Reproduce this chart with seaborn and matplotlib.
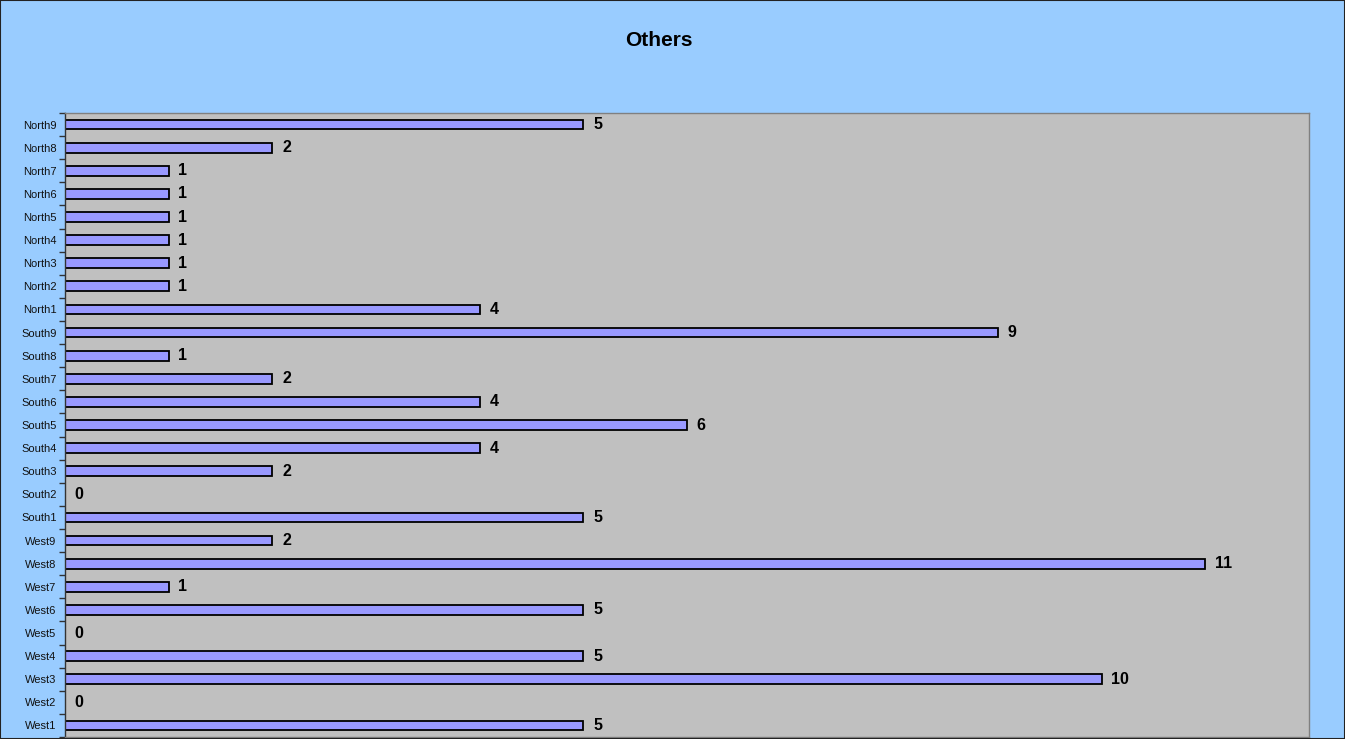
import matplotlib
matplotlib.use("Agg")
import matplotlib.pyplot as plt
import seaborn as sns
import pandas as pd
import numpy as np
from matplotlib.patches import Rectangle

# categories from top to bottom
regions = ["North9", "North8", "North7", "North6", "North5", "North4", "North3", "North2", "North1",
           "South9", "South8", "South7", "South6", "South5", "South4", "South3", "South2", "South1",
           "West9", "West8", "West7", "West6", "West5", "West4", "West3", "West2", "West1"]
counts = [5, 2, 1, 1, 1, 1, 1, 1, 4,
          9, 1, 2, 4, 6, 4, 2, 0, 5,
          2, 11, 1, 5, 0, 5, 10, 0, 5]

df = pd.DataFrame({"region": regions, "count": counts})

sns.set_style("white")
plt.rcParams["font.family"] = ["Liberation Sans", "DejaVu Sans"]

fig = plt.figure(figsize=(13.45, 7.39), dpi=100, facecolor="#99CCFF")
ax = fig.add_axes([65 / 1345, 1 - 737 / 739, (1309 - 65) / 1345, (737 - 113) / 739])
ax.set_facecolor("#C0C0C0")

sns.barplot(data=df, x="count", y="region", order=regions, orient="h",
            color="#9999FF", saturation=1, width=0.42,
            edgecolor="black", linewidth=1.3, ax=ax)

for c in ax.containers:
    ax.bar_label(c, padding=7, fontsize=11.5, fontweight="bold", color="black")

ax.set_xlim(0, 12)
ax.set_ylim(len(regions) - 0.5, -0.5)
ax.set_xlabel("")
ax.set_ylabel("")
ax.set_xticks([])
ax.tick_params(axis="y", which="major", left=False, length=0, labelsize=8,
               labelcolor="#111111", pad=6)
ax.set_yticks(np.arange(-0.5, len(regions), 1), minor=True)
ax.tick_params(axis="y", which="minor", left=True, length=4, width=1, color="#333333")

for s in ["top", "right", "bottom"]:
    ax.spines[s].set_color("#808080")
    ax.spines[s].set_linewidth(1)
ax.spines["left"].set_color("#333333")
ax.spines["left"].set_linewidth(1)

fig.text(659 / 1345, 1 - 40 / 739, "Others", ha="center", va="center",
         fontsize=15, fontweight="bold", color="black")

fig.patches.append(Rectangle((0, 0), 1, 1, transform=fig.transFigure, fill=False,
                             edgecolor="#222222", linewidth=1.5))

fig.savefig("out.png", dpi=100, facecolor=fig.get_facecolor())
